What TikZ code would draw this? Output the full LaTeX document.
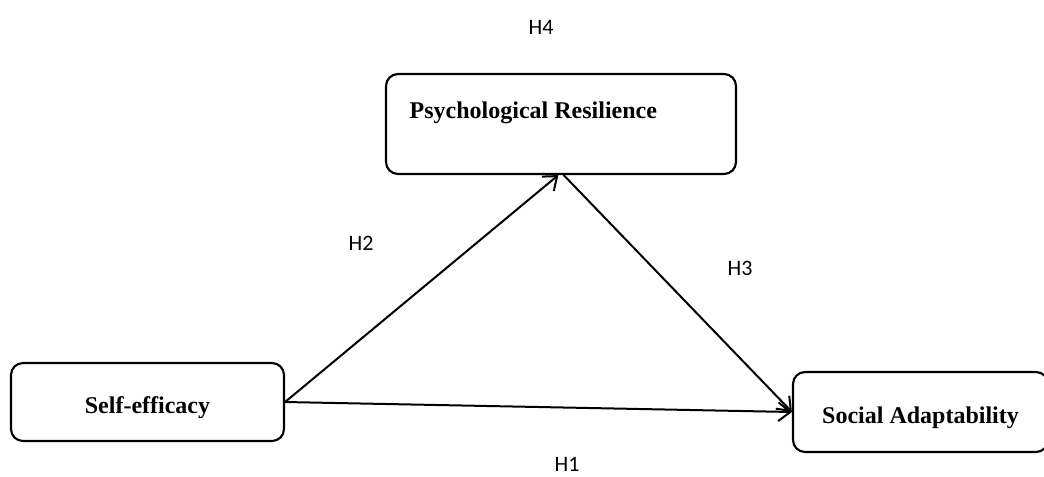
\documentclass[tikz,border=0pt]{standalone}
\usepackage{fontspec}
\setmainfont{Liberation Serif}
\newfontfamily\hfont{Carlito}
\usetikzlibrary{arrows.meta}
\newcommand{\lowtext}[1]{\raisebox{-4.5pt}[\height][\depth]{#1}}

\begin{document}
\begin{tikzpicture}[x=0.75pt,y=-0.75pt,
    box/.style = {draw, line width=1.6pt, rounded corners=9pt, inner sep=0pt},
    boxtext/.style = {font=\fontsize{18}{21}\selectfont\bfseries},
    hyp/.style = {font=\hfont\fontsize{16.5}{19}\selectfont},
    arr/.style = {draw, line width=1.5pt, -{Straight Barb[length=9pt,width=14pt,line width=1.5pt]}}]
    \useasboundingbox (0,0) rectangle (1044,476);
    % boxes
    \node[box, minimum width=262.5pt, minimum height=75pt] (pr) at (561,124) {};
    \node[boxtext, anchor=west] (prtext) at (405,113) {Psychological Resilience};
    \node[box, boxtext, minimum width=204.75pt, minimum height=58.5pt] (se) at (147.5,402) {\lowtext{Self-efficacy}};
    \node[box, boxtext, minimum width=191.25pt, minimum height=60pt] (sa) at (920.5,412) {\lowtext{Social Adaptability}};
    % hypotheses
    \node[hyp] (h4) at (541,27) {H4};
    \node[hyp] (h2) at (361,243) {H2};
    \node[hyp] (h3) at (740,268) {H3};
    \node[hyp] (h1) at (567,464) {H1};
    % paths
    \draw[arr] (se.east) -- ([xshift=-2pt]pr.south);
    \draw[arr] ([xshift=2pt]pr.south) -- (sa.west);
    \draw[arr] (se.east) -- (sa.west);
\end{tikzpicture}
\end{document}
